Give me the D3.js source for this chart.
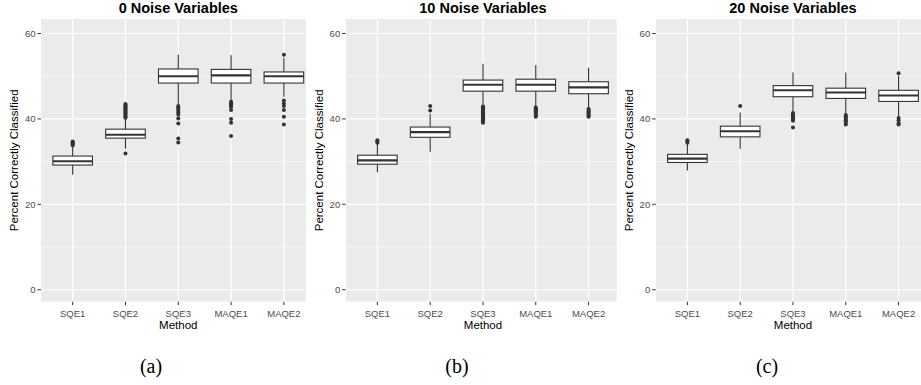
<!DOCTYPE html>
<html><head><meta charset="utf-8">
<script src="https://cdn.jsdelivr.net/npm/d3@7"></script>
<style>body{margin:0;background:#fff}svg{display:block}</style>
</head><body>
<script>
const methods = ["SQE1","SQE2","SQE3","MAQE1","MAQE2"];
const panelTitles = ["0 Noise Variables","10 Noise Variables","20 Noise Variables"];
const captions = ["(a)","(b)","(c)"];
const yTicks = [0,20,40,60];
const yMinor = [10,30,50];
const xTitle = "Method";
const yTitle = "Percent Correctly Classified";

// Panel (a): 0 noise variables
const lowA = [26.9, 33.0, 43.3, 44.1, 45.2];
const q1A  = [29.2, 35.5, 48.4, 48.4, 48.4];
const medA = [30.1, 36.3, 50.0, 50.2, 50.0];
const q3A  = [31.3, 37.6, 51.7, 51.6, 51.0];
const highA= [33.5, 40.0, 55.0, 54.9, 54.3];
const outA = [
  [34.7, 34.5, 34.3, 34.0, 33.8],
  [43.5, 43.3, 43.1, 42.9, 42.7, 42.5, 42.2, 42.0, 41.7, 41.5, 41.2, 41.0, 40.7, 40.5, 40.3, 31.9],
  [43.0, 42.7, 42.4, 42.0, 41.5, 41.0, 40.1, 38.9, 35.4, 34.5],
  [44.0, 43.7, 43.4, 43.1, 42.8, 42.1, 40.0, 39.1, 36.0],
  [55.0, 44.3, 43.6, 43.0, 42.1, 40.5, 38.7]
];

// Panel (b): 10 noise variables
const lowB = [27.5, 32.3, 43.0, 42.9, 42.5];
const q1B  = [29.4, 35.7, 46.5, 46.5, 45.9];
const medB = [30.3, 36.9, 48.0, 48.0, 47.4];
const q3B  = [31.5, 38.1, 49.1, 49.3, 48.7];
const highB= [34.1, 41.2, 52.9, 52.6, 52.0];
const outB = [
  [35.0, 34.7, 34.4],
  [43.0, 42.0],
  [42.9, 42.7, 42.5, 42.3, 42.1, 41.9, 41.7, 41.5, 41.3, 41.1, 40.9, 40.7, 40.5, 40.3, 40.1, 39.9, 39.7, 39.5, 39.3, 39.1],
  [42.7, 42.5, 42.2, 42.0, 41.8, 41.5, 41.2, 41.0, 40.8, 40.5],
  [42.3, 42.1, 41.8, 41.5, 41.2, 41.0, 40.7, 40.5]
];

// Panel (c): 20 noise variables
const lowC = [27.9, 33.0, 41.7, 41.1, 40.5];
const q1C  = [29.8, 35.8, 45.2, 44.8, 44.1];
const medC = [30.7, 37.1, 46.7, 46.2, 45.5];
const q3C  = [31.7, 38.3, 47.8, 47.2, 46.7];
const highC= [34.1, 41.5, 50.9, 50.9, 50.1];
const outC = [
  [35.0, 34.7, 34.4],
  [43.0],
  [41.4, 41.1, 40.8, 40.5, 40.2, 39.9, 39.6, 38.0],
  [40.9, 40.6, 40.3, 40.0, 39.7, 39.4, 39.1, 38.7],
  [50.7, 40.2, 39.7, 39.0, 38.7]
];

const panelStats = [
  {low: lowA, q1: q1A, med: medA, q3: q3A, high: highA, out: outA},
  {low: lowB, q1: q1B, med: medB, q3: q3B, high: highB, out: outB},
  {low: lowC, q1: q1C, med: medC, q3: q3C, high: highC, out: outC}
];

const W = 921, H = 385;
const svg = d3.select("body").append("svg").attr("width", W).attr("height", H);
const font = "'Liberation Sans', Arial, sans-serif";

const panelLeft = [41, 345.7, 655.7];
const panelClip = [306, 616.7, 921];
const unit = 52.8;
const plotTop = 19, plotBottom = 301.7;
const y = d3.scaleLinear().domain([-2.8, 63.4]).range([plotBottom, plotTop]);
const boxW = 0.75 * unit;
const ink = "#333333";

panelStats.forEach((st, p) => {
  const left = panelLeft[p];
  const fullRight = left + 5.2 * unit;
  const clipRight = Math.min(panelClip[p], fullRight);
  const x = d3.scalePoint().domain(methods).range([left + 0.6 * unit, left + 4.6 * unit]);
  const g = svg.append("g");
  const cid = "clip" + p;
  svg.append("clipPath").attr("id", cid).append("rect")
    .attr("x", left).attr("y", plotTop).attr("width", clipRight - left).attr("height", plotBottom - plotTop);
  const plot = g.append("g").attr("clip-path", `url(#${cid})`);
  plot.append("rect").attr("x", left).attr("y", plotTop).attr("width", fullRight - left)
    .attr("height", plotBottom - plotTop).attr("fill", "#EBEBEB");
  // grid
  plot.selectAll(".gmin").data(yMinor).join("line")
    .attr("x1", left).attr("x2", fullRight).attr("y1", d => y(d)).attr("y2", d => y(d))
    .attr("stroke", "#fff").attr("stroke-width", 0.6);
  plot.selectAll(".gmaj").data(yTicks).join("line")
    .attr("x1", left).attr("x2", fullRight).attr("y1", d => y(d)).attr("y2", d => y(d))
    .attr("stroke", "#fff").attr("stroke-width", 1.2);
  plot.selectAll(".gx").data(methods).join("line")
    .attr("x1", d => x(d)).attr("x2", d => x(d)).attr("y1", plotTop).attr("y2", plotBottom)
    .attr("stroke", "#fff").attr("stroke-width", 1.2);

  // boxes
  methods.forEach((m, i) => {
    const cx = x(m);
    const bg = plot.append("g");
    bg.append("line").attr("x1", cx).attr("x2", cx).attr("y1", y(st.q3[i])).attr("y2", y(st.high[i]))
      .attr("stroke", ink).attr("stroke-width", 1.1);
    bg.append("line").attr("x1", cx).attr("x2", cx).attr("y1", y(st.q1[i])).attr("y2", y(st.low[i]))
      .attr("stroke", ink).attr("stroke-width", 1.1);
    bg.append("rect").attr("x", cx - boxW / 2).attr("width", boxW)
      .attr("y", y(st.q3[i])).attr("height", y(st.q1[i]) - y(st.q3[i]))
      .attr("fill", "#fff").attr("stroke", ink).attr("stroke-width", 1.1);
    bg.append("line").attr("x1", cx - boxW / 2).attr("x2", cx + boxW / 2)
      .attr("y1", y(st.med[i])).attr("y2", y(st.med[i]))
      .attr("stroke", ink).attr("stroke-width", 2.1);
    bg.selectAll("circle").data(st.out[i]).join("circle")
      .attr("cx", cx).attr("cy", d => y(d)).attr("r", 2).attr("fill", ink);
  });

  // y axis ticks and labels
  g.selectAll(".yt").data(yTicks).join("line")
    .attr("x1", left - 3.5).attr("x2", left).attr("y1", d => y(d)).attr("y2", d => y(d))
    .attr("stroke", ink).attr("stroke-width", 1);
  g.selectAll(".yl").data(yTicks).join("text")
    .attr("x", left - 5.5).attr("y", d => y(d)).attr("dy", "0.35em")
    .attr("text-anchor", "end").attr("font-family", font).attr("font-size", 9.5)
    .attr("fill", "#4D4D4D").text(d => d);
  // x axis
  g.selectAll(".xt").data(methods).join("line")
    .attr("x1", d => x(d)).attr("x2", d => x(d)).attr("y1", plotBottom).attr("y2", plotBottom + 3.5)
    .attr("stroke", ink).attr("stroke-width", 1);
  g.selectAll(".xl").data(methods).join("text")
    .attr("x", d => x(d)).attr("y", plotBottom + 15)
    .attr("text-anchor", "middle").attr("font-family", font).attr("font-size", 9.5)
    .attr("fill", "#4D4D4D").text(d => d);
  const midX = (left + fullRight) / 2;
  g.append("text").attr("x", midX).attr("y", plotBottom + 27.5)
    .attr("text-anchor", "middle").attr("font-family", font).attr("font-size", 11.5)
    .attr("fill", "#000").text(xTitle);
  g.append("text").attr("transform", `translate(${left - 23},${(plotTop + plotBottom) / 2}) rotate(-90)`)
    .attr("text-anchor", "middle").attr("font-family", font).attr("font-size", 11.5)
    .attr("fill", "#000").text(yTitle);
  g.append("text").attr("x", midX).attr("y", 13)
    .attr("text-anchor", "middle").attr("font-family", font).attr("font-size", 14.5)
    .attr("font-weight", "bold").attr("fill", "#000").text(panelTitles[p]);
});

const capX = [151, 457, 767];
svg.selectAll(".cap").data(captions).join("text")
  .attr("x", (d, i) => capX[i]).attr("y", 373)
  .attr("text-anchor", "middle").attr("font-family", "'Liberation Serif', 'DejaVu Serif', serif")
  .attr("font-size", 20).attr("fill", "#000").text(d => d);
</script>
</body></html>
